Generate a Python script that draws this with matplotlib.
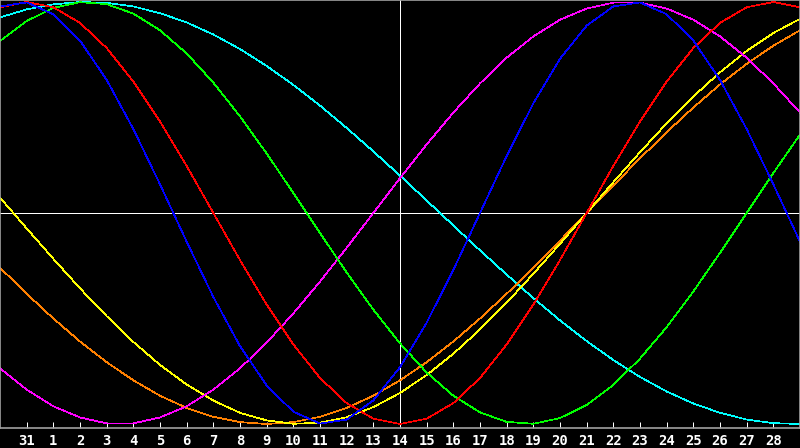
import matplotlib
matplotlib.use("Agg")
import matplotlib.pyplot as plt

# day labels along the bottom (index 1..29), index 0 = Jan 30, index 30 = Mar 1
day_labels = ["31"] + [str(d) for d in range(1, 29)]
days = list(range(31))

# cycle values, one point per day
physical = [0.979, 0.998, 0.942, 0.817, 0.631, 0.398, 0.136, -0.136, -0.398, -0.631,
            -0.817, -0.942, -0.998, -0.979, -0.888, -0.731, -0.520, -0.270, 0.0, 0.270,
            0.520, 0.731, 0.888, 0.979, 0.998, 0.942, 0.817, 0.631, 0.398, 0.136, -0.136]
emotional = [0.975, 1.0, 0.975, 0.901, 0.782, 0.623, 0.434, 0.223, 0.0, -0.223,
             -0.434, -0.623, -0.782, -0.901, -0.975, -1.0, -0.975, -0.901, -0.782, -0.623,
             -0.434, -0.223, 0.0, 0.223, 0.434, 0.623, 0.782, 0.901, 0.975, 1.0, 0.975]
intellectual = [0.815, 0.910, 0.972, 0.999, 0.990, 0.945, 0.866, 0.756, 0.618, 0.458,
                0.282, 0.095, -0.095, -0.282, -0.458, -0.618, -0.756, -0.866, -0.945, -0.990,
                -0.999, -0.972, -0.910, -0.815, -0.690, -0.541, -0.372, -0.189, 0.0, 0.189, 0.372]
intuitive = [-0.736, -0.837, -0.916, -0.969, -0.997, -0.997, -0.969, -0.916, -0.837, -0.736,
             -0.614, -0.476, -0.325, -0.165, 0.0, 0.165, 0.325, 0.476, 0.614, 0.736,
             0.837, 0.916, 0.969, 0.997, 0.997, 0.969, 0.916, 0.837, 0.736, 0.614, 0.476]
aesthetic = [0.073, -0.073, -0.217, -0.357, -0.489, -0.611, -0.720, -0.813, -0.889, -0.947,
             -0.983, -0.999, -0.994, -0.968, -0.920, -0.853, -0.768, -0.667, -0.552, -0.425,
             -0.288, -0.146, 0.0, 0.146, 0.288, 0.425, 0.552, 0.667, 0.768, 0.853, 0.920]
awareness = [-0.259, -0.383, -0.5, -0.609, -0.707, -0.793, -0.866, -0.924, -0.966, -0.991,
             -1.0, -0.991, -0.966, -0.924, -0.866, -0.793, -0.707, -0.609, -0.5, -0.383,
             -0.259, -0.131, 0.0, 0.131, 0.259, 0.383, 0.5, 0.609, 0.707, 0.793, 0.866]
spiritual = [0.927, 0.965, 0.989, 1.0, 0.996, 0.979, 0.947, 0.903, 0.846, 0.777,
             0.697, 0.607, 0.509, 0.403, 0.292, 0.177, 0.059, -0.059, -0.177, -0.292,
             -0.403, -0.509, -0.607, -0.697, -0.777, -0.846, -0.903, -0.947, -0.979, -0.996, -1.0]

today = 15
px = 0.72  # one pixel at 100 dpi

fig = plt.figure(figsize=(8, 4.48), dpi=100, facecolor="black")
ax = fig.add_axes([0, 20 / 448, 1, 428 / 448])
ax.set_facecolor("black")

ax.axhline(0, color="white", lw=px, antialiased=False)
ax.axvline(today, color="white", lw=px, antialiased=False)

series = [(spiritual, "#00ffff"), (awareness, "#ff8000"), (aesthetic, "#ffff00"),
          (intuitive, "#ff00ff"), (intellectual, "#00ff00"), (emotional, "#ff0000"),
          (physical, "#0000ff")]
for vals, col in series:
    ax.plot(days, vals, color=col, lw=0.5, antialiased=False)

ax.set_xlim(0, 30)
ax.set_ylim(-1.019, 1.0095)
ax.set_yticks([])
ax.set_xticks(range(1, 30))
ax.set_xticklabels(day_labels, color="white", fontsize=10, fontweight="bold",
                   family="DejaVu Sans Mono")
ax.tick_params(axis="x", direction="in", length=4, width=px, color="white", pad=4)

for side in ["top", "left", "right", "bottom"]:
    ax.spines[side].set_color("#a0a0a0")
    ax.spines[side].set_linewidth(1.2)

fig.savefig("out.png", dpi=100, facecolor="black")
